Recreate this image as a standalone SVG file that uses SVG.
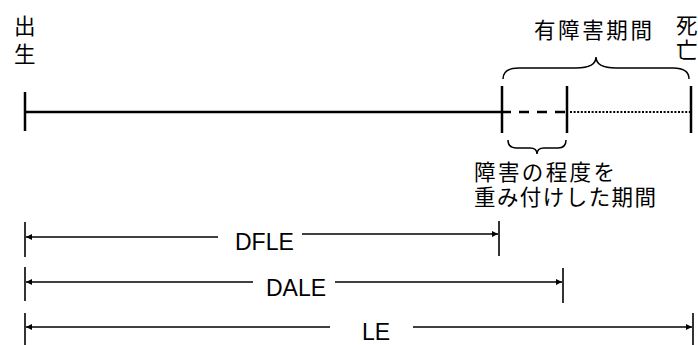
<svg xmlns="http://www.w3.org/2000/svg" width="698" height="345" viewBox="0 0 698 345">
<defs>
<style>
.t{font-family:"Liberation Sans","Noto Sans CJK JP",Arial,sans-serif;font-size:23px;fill:#000}
.j{font-family:"Noto Sans CJK JP","Liberation Sans",sans-serif;font-size:21.5px;fill:#000}
.tk{stroke:#000;stroke-width:2.5;fill:none}
.ln{stroke:#000;stroke-width:2.5;fill:none}
.dl{stroke:#000;stroke-width:1.6;fill:none}
.br{stroke:#000;stroke-width:1.5;fill:none}
</style>
<marker id="ar" viewBox="0 0 10 10" refX="10" refY="5" markerWidth="6" markerHeight="6" markerUnits="userSpaceOnUse" orient="auto">
<path d="M0,0 L10,5 L0,10 Z" fill="#000"/>
</marker>
</defs>
<rect width="698" height="345" fill="#fff"/>

<g id="birth">
<text class="j" x="14" y="34">出</text>
<text class="j" x="14" y="62">生</text>
</g>
<g id="death">
<text class="j" x="676" y="33">死</text>
<text class="j" x="676" y="58">亡</text>
</g>
<g id="disabled-period">
<text class="j" x="534" y="38" textLength="118" lengthAdjust="spacing">有障害期間</text>
<path class="br" d="M503,79 C503,71 509,68 519,68 L576,68 C589,68 596,65 596,57 C596,65 603,68 616,68 L673,68 C683,68 689,71 689,79"/>
</g>
<g id="weighted-period">
<path class="br" d="M508,140 C508,146 511,148 516,148 L530,148 C534,148 537,150 537,154 C537,150 540,148 544,148 L558,148 C563,148 566,146 566,140"/>
<text class="j" x="474" y="180" textLength="141" lengthAdjust="spacing">障害の程度を</text>
<text class="j" x="474" y="205" textLength="182" lengthAdjust="spacing">重み付けした期間</text>
</g>

<g id="timeline">
<line class="tk" x1="25" y1="92" x2="25" y2="131"/>
<line class="tk" x1="502" y1="86" x2="502" y2="133"/>
<line class="tk" x1="567" y1="86" x2="567" y2="133"/>
<line class="tk" x1="691" y1="86" x2="691" y2="133"/>
<line class="ln" x1="25" y1="112" x2="501" y2="112"/>
<line class="ln" x1="501" y1="112" x2="570" y2="112" stroke-dasharray="10 8"/>
<line x1="570" y1="112" x2="691" y2="112" stroke="#000" stroke-width="2.2" stroke-dasharray="2 1.6"/>
</g>

<g id="dfle">
<line class="dl" x1="25" y1="222" x2="25" y2="257"/>
<line class="dl" x1="499" y1="221" x2="499" y2="256"/>
<text class="t" x="235" y="250">DFLE</text>
</g>
<g id="dale">
<line class="dl" x1="25" y1="267" x2="25" y2="301"/>
<line class="dl" x1="563" y1="268" x2="563" y2="303"/>
<text class="t" x="266" y="296">DALE</text>
</g>
<g id="le">
<line class="dl" x1="25" y1="313" x2="25" y2="345"/>
<line class="dl" x1="693" y1="313" x2="693" y2="345"/>
<text class="t" x="362" y="340">LE</text>
</g>

<g id="connectors">
<line class="dl" x1="218" y1="237" x2="26" y2="237" marker-end="url(#ar)"/>
<line class="dl" x1="302" y1="234" x2="498" y2="234" marker-end="url(#ar)"/>
<line class="dl" x1="253" y1="282" x2="26" y2="282" marker-end="url(#ar)"/>
<line class="dl" x1="335" y1="282" x2="562" y2="282" marker-end="url(#ar)"/>
<line class="dl" x1="330" y1="327" x2="26" y2="327" marker-end="url(#ar)"/>
<line class="dl" x1="413" y1="327" x2="692" y2="327" marker-end="url(#ar)"/>
</g>
</svg>
